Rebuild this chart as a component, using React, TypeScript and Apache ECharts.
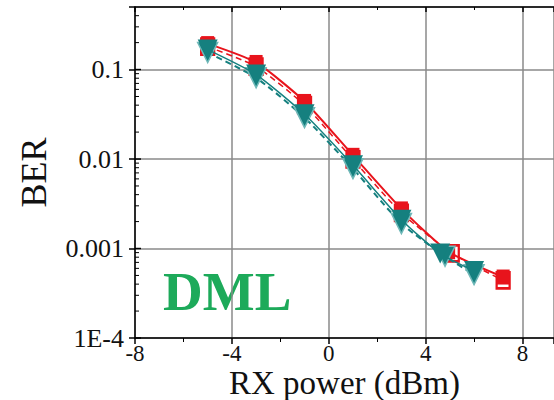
import React, { useEffect, useRef } from "react";
import * as echarts from "echarts";

// ---- data ----
const redSolidX = [-5, -3, -1, 1, 3, 4.95, 7.2];
const redSolidY = [0.195, 0.12, 0.044, 0.011, 0.00277, 0.00092, 0.00048];
const redDashX = [-5, -3, -1, 1, 3, 5.1, 7.2];
const redDashY = [0.18, 0.108, 0.04, 0.0099, 0.0025, 0.00088, 0.00044];
const tealSolidX = [-5, -3, -1, 1, 3, 4.6, 6];
const tealSolidY = [0.167, 0.088, 0.0316, 0.0085, 0.0021, 0.00088, 0.00056];
const tealDashX = [-5, -3, -1, 1, 3, 4.8, 6];
const tealDashY = [0.155, 0.081, 0.029, 0.0078, 0.0019, 0.00082, 0.00051];

const yTickValues = [1e-4, 1e-3, 1e-2, 0.1];
const yTickLabels = ["1E-4", "0.001", "0.01", "0.1"];
const xTickLabels = ["-8", "-4", "0", "4", "8"];

const X_MIN = -8;
const X_MAX = 9.3;
const Y_MIN = 1e-4;
const Y_MAX = 0.5;

const RED = "#e8141c";
const TEAL = "#15807f";
const GRID = "#8a8a8a";
const SERIF = "Liberation Serif";

const pairs = (xs: number[], ys: number[]) => xs.map((x, i) => [x, ys[i]]);

export default function App() {
  const ref = useRef<HTMLDivElement>(null);
  useEffect(() => {
    if (!ref.current) return;
    const chart = echarts.init(ref.current, undefined, { renderer: "svg" });

    const minorY: number[] = [];
    for (let d = -4; d <= -1; d++) {
      for (let m = 2; m <= 9; m++) {
        const v = m * Math.pow(10, d);
        if (v < Y_MAX) minorY.push(v);
      }
    }

    const yLabel = (v: number) => {
      for (let i = 0; i < yTickValues.length; i++) {
        if (Math.abs(Math.log10(v) - Math.log10(yTickValues[i])) < 1e-6) return yTickLabels[i];
      }
      return "";
    };
    const xLabel = (v: number) => {
      const s = String(Math.round(v));
      return Math.abs(v - Math.round(v)) < 1e-6 && xTickLabels.indexOf(s) >= 0 ? s : "";
    };

    const option: any = {
      animation: false,
      backgroundColor: "#ffffff",
      textStyle: { fontFamily: SERIF },
      grid: { left: 135, right: 0, top: 7, bottom: 62, containLabel: false, outerBoundsMode: "none" },
      xAxis: [
        {
          type: "value",
          min: X_MIN,
          max: X_MAX,
          interval: 4,
          position: "bottom",
          name: "RX power (dBm)",
          nameLocation: "middle",
          nameGap: 28,
          nameMoveOverlap: false,
          nameTextStyle: { fontFamily: SERIF, fontSize: 33, color: "#111" },
          axisLine: { show: true, onZero: false, lineStyle: { color: "#000", width: 1.5 } },
          axisTick: { show: true, inside: false, length: 6, lineStyle: { color: "#000", width: 1.5 } },
          minorTick: { show: true, splitNumber: 2, length: 4, lineStyle: { color: "#000", width: 1 } },
          axisLabel: {
            formatter: xLabel,
            fontFamily: SERIF,
            fontSize: 23,
            color: "#111",
            margin: 4,
            showMaxLabel: false,
          },
          splitLine: { show: true, lineStyle: { color: GRID, width: 1.5 } },
        },
        {
          type: "value",
          min: X_MIN,
          max: X_MAX,
          interval: 4,
          position: "top",
          axisLine: { show: true, onZero: false, lineStyle: { color: "#000", width: 1.5 } },
          axisTick: { show: true, inside: true, length: 5, lineStyle: { color: "#000", width: 1.5 } },
          minorTick: { show: true, splitNumber: 2, length: 3, lineStyle: { color: "#000", width: 1 } },
          axisLabel: { show: false },
          splitLine: { show: false },
        },
      ],
      yAxis: {
        type: "log",
        logBase: 10,
        min: Y_MIN,
        max: Y_MAX,
        name: "BER",
        nameLocation: "middle",
        nameGap: 83,
        nameMoveOverlap: false,
        nameTextStyle: { fontFamily: SERIF, fontSize: 36, color: "#111" },
        axisLine: { show: true, onZero: false, lineStyle: { color: "#000", width: 1.5 } },
        axisTick: { show: true, inside: false, length: 6, lineStyle: { color: "#000", width: 1.5 } },
        axisLabel: {
          formatter: yLabel,
          fontFamily: SERIF,
          fontSize: 26,
          color: "#111",
          margin: 11,
        },
        splitLine: { show: true, lineStyle: { color: GRID, width: 1.5 } },
      },
      graphic: [
        {
          type: "text",
          left: 163,
          top: 264,
          silent: true,
          style: {
            text: "DML",
            fontFamily: SERIF,
            fontWeight: "bold",
            fontSize: 55,
            fill: "#1daa5a",
          },
        },
      ],
      series: [
        {
          type: "custom",
          silent: true,
          clip: false,
          z: 5,
          data: minorY.map((v) => [X_MIN, v]),
          renderItem: (params: any, api: any) => {
            const p = api.coord([api.value(0), api.value(1)]);
            return {
              type: "line",
              shape: { x1: p[0], y1: p[1], x2: p[0] + 4, y2: p[1] },
              style: { stroke: "#000", lineWidth: 1 },
            };
          },
        },
        {
          type: "custom",
          silent: true,
          clip: false,
          z: 5,
          data: yTickValues.map((v) => [X_MIN, v]),
          renderItem: (params: any, api: any) => {
            const p = api.coord([api.value(0), api.value(1)]);
            return {
              type: "line",
              shape: { x1: p[0], y1: p[1], x2: p[0] + 6, y2: p[1] },
              style: { stroke: "#000", lineWidth: 1.5 },
            };
          },
        },
        {
          name: "red dashed",
          type: "line",
          data: pairs(redDashX, redDashY),
          smooth: 0.2,
          symbol: "rect",
          symbolSize: [13, 16],
          z: 2,
          lineStyle: { color: RED, width: 1.5, type: [6, 4] },
          itemStyle: { color: "#ffffff", borderColor: RED, borderWidth: 2.5 },
        },
        {
          name: "red solid",
          type: "line",
          data: pairs(redSolidX, redSolidY),
          smooth: 0.2,
          symbol: "rect",
          symbolSize: [13, 15],
          z: 3,
          lineStyle: { color: RED, width: 2 },
          itemStyle: { color: RED },
        },
        {
          name: "teal dashed",
          type: "line",
          data: pairs(tealDashX, tealDashY),
          smooth: 0.2,
          symbol: "triangle",
          symbolRotate: 180,
          symbolSize: [20, 20],
          z: 4,
          lineStyle: { color: TEAL, width: 2, type: [6, 4] },
          itemStyle: { color: TEAL, borderColor: "#6fb8b8", borderWidth: 1.5 },
        },
        {
          name: "teal solid",
          type: "line",
          data: pairs(tealSolidX, tealSolidY),
          smooth: 0.2,
          symbol: "triangle",
          symbolRotate: 180,
          symbolSize: [20, 20],
          z: 5,
          lineStyle: { color: TEAL, width: 1.5 },
          itemStyle: { color: TEAL },
        },
      ],
    };
    chart.setOption(option);
    return () => chart.dispose();
  }, []);
  return (
    <div
      ref={ref}
      style={{ position: "fixed", left: 0, top: 0, width: 554, height: 400, background: "#fff" }}
    />
  );
}
